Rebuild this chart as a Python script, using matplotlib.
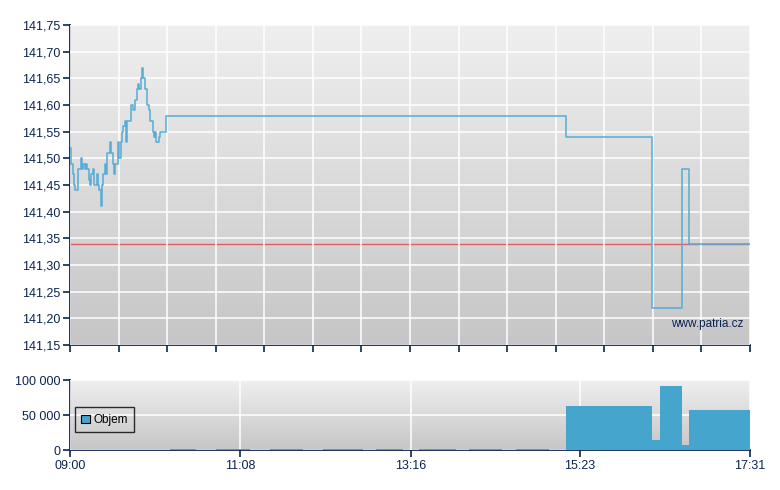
#!/usr/bin/env python3
"""Intraday price and volume chart (patria.cz style)."""

import matplotlib

matplotlib.use("Agg")
import matplotlib.pyplot as plt
import numpy as np
from matplotlib.patches import Patch
from matplotlib.ticker import FuncFormatter

# price: minutes after 09:00 and last price
price_minutes = [
    0, 1, 2, 3, 4, 5, 6, 7, 8, 9, 10, 11, 12, 13, 14, 15, 16, 17, 18, 19,
    20, 21, 22, 23, 24, 25, 26, 27, 28, 29, 30, 31, 32, 33, 34, 35, 36, 37,
    38, 39, 40, 41, 42, 43, 44, 45, 46, 47, 48, 49, 50, 51, 52, 53, 54, 55,
    56, 57, 58, 59, 60, 61, 62, 63, 64, 65, 66, 67, 68, 69, 70, 72,
    373, 437, 460, 465, 511,
]
price_values = [
    141.52, 141.49, 141.47, 141.45, 141.44, 141.44, 141.48, 141.48, 141.50, 141.48,
    141.49, 141.48, 141.49, 141.48, 141.46, 141.45, 141.47, 141.48, 141.45, 141.45,
    141.47, 141.45, 141.44, 141.41, 141.45, 141.47, 141.49, 141.47, 141.51, 141.51,
    141.53, 141.51, 141.49, 141.47, 141.49, 141.49, 141.53, 141.50, 141.53, 141.55,
    141.56, 141.57, 141.53, 141.57, 141.57, 141.57, 141.60, 141.59, 141.59, 141.61,
    141.63, 141.64, 141.63, 141.65, 141.67, 141.65, 141.63, 141.63, 141.60, 141.59,
    141.57, 141.57, 141.55, 141.54, 141.55, 141.53, 141.53, 141.54, 141.55, 141.55,
    141.55, 141.58,
    141.54, 141.22, 141.48, 141.34, 141.34,
]
reference_price = 141.34

# volume: start minute, end minute, traded volume
volume_starts = [75, 110, 150, 190, 230, 262, 300, 335, 373, 437, 443, 460, 465]
volume_ends = [95, 135, 175, 220, 250, 290, 325, 360, 437, 443, 460, 465, 511]
volume_values = [900, 900, 900, 900, 900, 900, 900, 900, 63500, 14400, 90900, 7200, 57700]

time_labels = ["09:00", "11:08", "13:16", "15:23", "17:31"]
price_ticks = [141.15, 141.20, 141.25, 141.30, 141.35, 141.40, 141.45,
               141.50, 141.55, 141.60, 141.65, 141.70, 141.75]
volume_ticks = [0, 50000, 100000]

NAVY = "#0c2452"
LINE_BLUE = "#55acd6"
BAR_BLUE = "#46a5cd"

plt.rcParams["font.family"] = ["Liberation Sans", "DejaVu Sans"]
plt.rcParams["font.size"] = 9


def to_minutes(label: str) -> int:
    hours, minutes = label.split(":")
    return (int(hours) - 9) * 60 + int(minutes)


def paint_background(axis, top="#efefef", bottom="#c6c6c6"):
    gradient = np.linspace(0, 1, 256).reshape(-1, 1)
    cmap = matplotlib.colors.LinearSegmentedColormap.from_list("bg", [top, bottom])
    axis.imshow(gradient, cmap=cmap, aspect="auto", extent=(0, 1, 0, 1),
                transform=axis.transAxes, zorder=0, origin="upper")


def style_axis(axis):
    for side in ("top", "right"):
        axis.spines[side].set_visible(False)
    for side in ("left", "bottom"):
        axis.spines[side].set_color(NAVY)
        axis.spines[side].set_linewidth(1.3)
    axis.tick_params(colors=NAVY, labelcolor=NAVY, length=5, width=1.2,
                     direction="out", pad=2)
    axis.set_axisbelow(False)


fig = plt.figure(figsize=(7.8, 4.9), dpi=100)
W, H = 780, 490
ax = fig.add_axes((70 / W, 1 - 345 / H, 680 / W, 320 / H))
ax_vol = fig.add_axes((70 / W, 1 - 450 / H, 680 / W, 70 / H))

x_end = to_minutes(time_labels[-1])

# price panel
paint_background(ax)
style_axis(ax)
ax.set_xlim(0, x_end)
ax.set_ylim(price_ticks[0], price_ticks[-1])
ax.set_xticks(np.linspace(0, x_end, 15))
ax.set_xticklabels([])
ax.set_yticks(price_ticks)
ax.yaxis.set_major_formatter(FuncFormatter(lambda v, _: f"{v:.2f}".replace(".", ",")))
ax.grid(True, color="white", linewidth=1.1, zorder=1)
ax.axhline(reference_price, color="#e0404a", linewidth=1.0, alpha=0.8, zorder=2)
ax.plot(price_minutes, price_values, drawstyle="steps-post", color=LINE_BLUE,
        linewidth=1.1, zorder=3)
ax.text(0.99, 0.065, "www.patria.cz", transform=ax.transAxes, ha="right",
        va="center", color=NAVY, fontsize=8.5, zorder=4)

# volume panel
paint_background(ax_vol)
style_axis(ax_vol)
ax_vol.set_xlim(0, x_end)
ax_vol.set_ylim(0, volume_ticks[-1])
ax_vol.set_xticks([to_minutes(t) for t in time_labels])
ax_vol.set_xticklabels(time_labels)
ax_vol.set_yticks(volume_ticks)
ax_vol.yaxis.set_major_formatter(FuncFormatter(lambda v, _: f"{int(v):,}".replace(",", " ")))
ax_vol.grid(True, color="white", linewidth=1.1, zorder=1)
widths = [end - start for start, end in zip(volume_starts, volume_ends)]
ax_vol.bar(volume_starts, volume_values, width=widths, align="edge",
           color=BAR_BLUE, linewidth=0, zorder=3)
legend = ax_vol.legend(
    handles=[Patch(facecolor=BAR_BLUE, edgecolor="black", linewidth=0.8, label="Objem")],
    loc="center left", bbox_to_anchor=(0.007, 0.43), borderaxespad=0,
    frameon=True, fancybox=False,
    handlelength=0.7, handleheight=0.7, handletextpad=0.3, borderpad=0.55,
    fontsize=8.5,
)
legend.get_frame().set_edgecolor("black")
legend.get_frame().set_facecolor("none")
legend.get_frame().set_linewidth(1.0)
legend.set_zorder(5)

fig.savefig("out.png", dpi=100)
